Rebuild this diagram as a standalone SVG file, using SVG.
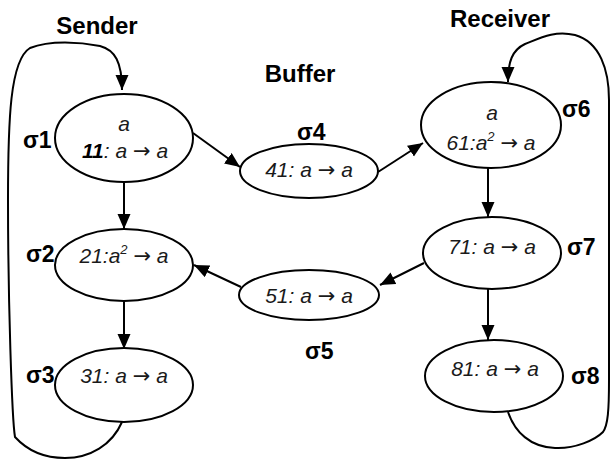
<svg xmlns="http://www.w3.org/2000/svg" width="612" height="460" viewBox="0 0 612 460">
<style>
.node ellipse{fill:#fff;stroke:#000;stroke-width:2}
.t{font-family:"Liberation Sans",Arial,sans-serif;font-style:italic;font-size:21px;fill:#1a1a1a;text-anchor:middle}
.ar{font-family:"DejaVu Sans",sans-serif;font-style:normal;font-size:21px}
.lbl{font-family:"Liberation Sans",Arial,sans-serif;font-weight:bold;font-size:23px;fill:#000}
.title{font-family:"Liberation Sans",Arial,sans-serif;font-weight:bold;font-size:24px;fill:#000;text-anchor:middle}
.conn path{fill:none;stroke:#000;stroke-width:2}
</style>
<defs>
<marker id="ah" markerUnits="userSpaceOnUse" markerWidth="17" markerHeight="15" refX="15" refY="6.5" orient="auto">
<path d="M0,0 L15,6.5 L0,13 z" fill="#000"/>
</marker>
</defs>
<rect width="612" height="460" fill="#fff"/>
<text class="title" x="97" y="34">Sender</text>
<text class="title" x="300" y="82">Buffer</text>
<text class="title" x="500" y="27">Receiver</text>
<g class="conn">
<path d="M122,422 C112,445 90,458 65,458 C40,458 25,448 15,437 C12,420 8,300 8,200 C8,120 10,60 30,48 C50,40 80,42 100,46 C115,50 122,62 122,90" marker-end="url(#ah)"/>
<path d="M508,412 C515,432 530,447 555,448 C575,449 595,440 603,432 C608,425 609,410 609,380 L609,100 C609,70 600,42 575,35 C555,30 540,38 525,44 C512,50 508,62 508,82" marker-end="url(#ah)"/>
<path d="M124,182 L124,229" marker-end="url(#ah)"/>
<path d="M124,301 L124,349" marker-end="url(#ah)"/>
<path d="M193,133 L240,167" marker-end="url(#ah)"/>
<path d="M378,172 L423,143" marker-end="url(#ah)"/>
<path d="M488,168 L488,217" marker-end="url(#ah)"/>
<path d="M488,289 L488,340" marker-end="url(#ah)"/>
<path d="M424,263 L380,285" marker-end="url(#ah)"/>
<path d="M241,287 L194,265" marker-end="url(#ah)"/>
</g>
<g id="s1" class="node">
<ellipse cx="124" cy="138" rx="69" ry="44"/>
<text class="t" x="124" y="131">a</text>
<text class="t" x="125" y="158"><tspan font-weight="bold" fill="#000">11</tspan>: a <tspan class="ar">→</tspan> a</text>
<text class="lbl" x="23" y="148">σ1</text>
</g>
<g id="s2" class="node">
<ellipse cx="124" cy="265" rx="69" ry="36"/>
<text class="t" x="124" y="263">21:a<tspan font-size="13" dy="-9">2</tspan><tspan dy="9"> </tspan><tspan class="ar">→</tspan> a</text>
<text class="lbl" x="26" y="262">σ2</text>
</g>
<g id="s3" class="node">
<ellipse cx="124" cy="385" rx="69" ry="37"/>
<text class="t" x="124" y="383">31: a <tspan class="ar">→</tspan> a</text>
<text class="lbl" x="26" y="383">σ3</text>
</g>
<g id="s4" class="node">
<ellipse cx="309" cy="171" rx="69" ry="27"/>
<text class="t" x="309" y="177">41: a <tspan class="ar">→</tspan> a</text>
<text class="lbl" x="297" y="140">σ4</text>
</g>
<g id="s5" class="node">
<ellipse cx="309" cy="295" rx="70" ry="25"/>
<text class="t" x="309" y="303">51: a <tspan class="ar">→</tspan> a</text>
<text class="lbl" x="305" y="359">σ5</text>
</g>
<g id="s6" class="node">
<ellipse cx="491" cy="125" rx="70" ry="43"/>
<text class="t" x="492" y="120">a</text>
<text class="t" x="491" y="150">61:a<tspan font-size="13" dy="-9">2</tspan><tspan dy="9"> </tspan><tspan class="ar">→</tspan> a</text>
<text class="lbl" x="562" y="117">σ6</text>
</g>
<g id="s7" class="node">
<ellipse cx="492" cy="253" rx="69" ry="36"/>
<text class="t" x="492" y="254">71: a <tspan class="ar">→</tspan> a</text>
<text class="lbl" x="567" y="255">σ7</text>
</g>
<g id="s8" class="node">
<ellipse cx="494" cy="376" rx="69" ry="36"/>
<text class="t" x="495" y="376">81: a <tspan class="ar">→</tspan> a</text>
<text class="lbl" x="571" y="384">σ8</text>
</g>
</svg>
